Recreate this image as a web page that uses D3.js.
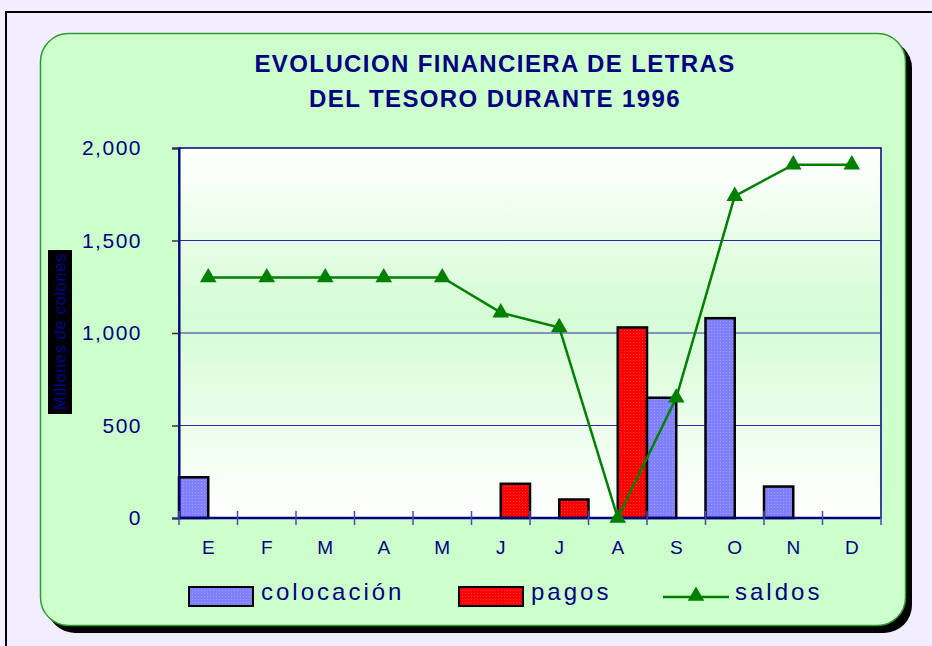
<!DOCTYPE html>
<html>
<head>
<meta charset="utf-8">
<script src="https://cdn.jsdelivr.net/npm/d3@7/dist/d3.min.js"></script>
<style>
  html, body { margin: 0; padding: 0; background: #f2eefe; }
  svg { display: block; font-family: "Liberation Sans", Arial, sans-serif; }
</style>
</head>
<body>
<div id="chart"></div>
<script>
  "use strict";

  // data
  var months = ['E', 'F', 'M', 'A', 'M', 'J', 'J', 'A', 'S', 'O', 'N', 'D'];
  var colocacion = [220, 0, 0, 0, 0, 0, 0, 0, 650, 1080, 170, 0];
  var pagos = [0, 0, 0, 0, 0, 185, 100, 1030, 0, 0, 0, 0];
  var saldos = [1300, 1300, 1300, 1300, 1300, 1110, 1030, 0, 650, 1740, 1910, 1910];
  var yTicks = [0, 500, 1000, 1500, 2000];
  var seriesNames = ['colocación', 'pagos', 'saldos'];

  var width = 932,
    height = 646,
    navy = '#000080';

  var svg = d3.select('#chart')
    .append('svg')
    .attr('width', width)
    .attr('height', height);

  var defs = svg.append('defs');

  var grad = defs.append('linearGradient')
    .attr('id', 'plotbg')
    .attr('x1', 0).attr('y1', 0).attr('x2', 0).attr('y2', 1);
  grad.append('stop').attr('offset', '0%').attr('stop-color', '#ffffff');
  grad.append('stop').attr('offset', '45%').attr('stop-color', '#d4fcd4');
  grad.append('stop').attr('offset', '100%').attr('stop-color', '#ffffff');

  // dotted fills
  var makePattern = function(id, base, dot) {
    var p = defs.append('pattern')
      .attr('id', id)
      .attr('width', 3).attr('height', 3)
      .attr('patternUnits', 'userSpaceOnUse');
    p.append('rect').attr('width', 3).attr('height', 3).attr('fill', base);
    p.append('rect').attr('width', 1).attr('height', 1).attr('fill', dot);
  };
  makePattern('patBlue', '#8080ff', '#a0a0ff');
  makePattern('patRed', '#ff0000', '#ff4040');

  // outer frame
  svg.append('rect')
    .attr('x', 6).attr('y', 12)
    .attr('width', width + 10).attr('height', height + 10)
    .attr('fill', '#f2eefe')
    .attr('stroke', '#000').attr('stroke-width', 2);

  // panel with shadow
  svg.append('rect')
    .attr('x', 47).attr('y', 40)
    .attr('width', 865).attr('height', 593)
    .attr('rx', 28)
    .attr('fill', '#000');
  svg.append('rect')
    .attr('x', 40.5).attr('y', 33.5)
    .attr('width', 865).attr('height', 592)
    .attr('rx', 28)
    .attr('fill', '#ccffcc')
    .attr('stroke', '#2f9a2f').attr('stroke-width', 1.5);

  // title
  var title = svg.append('text')
    .attr('text-anchor', 'middle')
    .attr('fill', navy)
    .attr('font-weight', 'bold')
    .attr('font-size', 24)
    .attr('letter-spacing', 1.4);
  title.append('tspan').attr('x', 495).attr('y', 72).text('EVOLUCION FINANCIERA DE LETRAS');
  title.append('tspan').attr('x', 495).attr('y', 107).text('DEL TESORO DURANTE 1996');

  // scales
  var x = d3.scaleBand()
    .domain(d3.range(months.length))
    .range([179, 881])
    .padding(0);

  var x1 = d3.scaleBand()
    .domain(['colocacion', 'pagos'])
    .range([0, x.bandwidth()])
    .padding(0);

  var y = d3.scaleLinear()
    .domain([0, 2000])
    .range([518, 148]);

  var plotW = x.range()[1] - x.range()[0],
    plotH = y(0) - y(2000);

  svg.append('rect')
    .attr('x', x.range()[0]).attr('y', y(2000))
    .attr('width', plotW).attr('height', plotH)
    .attr('fill', 'url(#plotbg)')
    .attr('stroke', navy).attr('stroke-width', 1.5);

  // gridlines
  svg.append('g')
    .selectAll('line')
    .data(yTicks.slice(1, -1))
    .enter().append('line')
    .attr('x1', x.range()[0]).attr('x2', x.range()[1])
    .attr('y1', function(d) { return y(d); })
    .attr('y2', function(d) { return y(d); })
    .attr('stroke', '#2a2aa8').attr('stroke-width', 1);

  // bars
  var barData = [];
  months.forEach(function(m, i) {
    if (colocacion[i] > 0) barData.push({ i: i, k: 'colocacion', v: colocacion[i] });
    if (pagos[i] > 0) barData.push({ i: i, k: 'pagos', v: pagos[i] });
  });

  svg.append('g')
    .selectAll('rect')
    .data(barData)
    .enter().append('rect')
    .attr('x', function(d) { return x(d.i) + x1(d.k); })
    .attr('y', function(d) { return y(d.v); })
    .attr('width', x1.bandwidth())
    .attr('height', function(d) { return y(0) - y(d.v); })
    .attr('fill', function(d) { return d.k === 'pagos' ? 'url(#patRed)' : 'url(#patBlue)'; })
    .attr('stroke', '#000').attr('stroke-width', 2.5);

  // y axis
  var yAxis = svg.append('g')
    .attr('transform', 'translate(' + x.range()[0] + ',0)')
    .call(d3.axisLeft(y).tickValues(yTicks).tickSize(7).tickPadding(30)
      .tickFormat(d3.format(',')));
  yAxis.select('.domain').attr('stroke', navy).attr('stroke-width', 2);
  yAxis.selectAll('.tick line').attr('stroke', '#333').attr('stroke-width', 1.5);
  yAxis.selectAll('.tick text')
    .attr('fill', navy)
    .attr('font-size', 21)
    .attr('letter-spacing', 1.5)
    .attr('font-family', '"Liberation Sans", Arial, sans-serif');

  // x axis
  var xAxis = svg.append('g')
    .attr('transform', 'translate(0,' + y(0) + ')');
  xAxis.append('line')
    .attr('x1', x.range()[0]).attr('x2', x.range()[1])
    .attr('stroke', navy).attr('stroke-width', 2.5);
  xAxis.selectAll('.xt')
    .data(d3.range(months.length + 1))
    .enter().append('line')
    .attr('class', 'xt')
    .attr('x1', function(d) { return x.range()[0] + d * x.step(); })
    .attr('x2', function(d) { return x.range()[0] + d * x.step(); })
    .attr('y1', -7).attr('y2', 7)
    .attr('stroke', '#4a4ab0').attr('stroke-width', 1.5);
  xAxis.selectAll('.xl')
    .data(months)
    .enter().append('text')
    .attr('class', 'xl')
    .attr('x', function(d, i) { return x(i) + x.bandwidth() / 2; })
    .attr('y', 36)
    .attr('text-anchor', 'middle')
    .attr('fill', navy)
    .attr('font-size', 19)
    .text(function(d) { return d; });

  // saldos line
  var line = d3.line()
    .x(function(d, i) { return x(i) + x.bandwidth() / 2; })
    .y(function(d) { return y(d); });

  svg.append('path')
    .datum(saldos)
    .attr('d', line)
    .attr('fill', 'none')
    .attr('stroke', '#008000')
    .attr('stroke-width', 2.5);

  var tri = d3.symbol().type(d3.symbolTriangle).size(120);
  svg.append('g')
    .selectAll('path')
    .data(saldos)
    .enter().append('path')
    .attr('d', tri)
    .attr('transform', function(d, i) {
      return 'translate(' + (x(i) + x.bandwidth() / 2) + ',' + y(d) + ')';
    })
    .attr('fill', '#008000');

  // y label
  var yl = svg.append('g').attr('transform', 'translate(60,332) rotate(-90)');
  yl.append('rect')
    .attr('x', -82).attr('y', -12)
    .attr('width', 164).attr('height', 24)
    .attr('fill', '#000');
  yl.append('text')
    .attr('text-anchor', 'middle')
    .attr('y', 6)
    .attr('fill', '#000090')
    .attr('font-size', 16)
    .attr('textLength', 156)
    .attr('lengthAdjust', 'spacing')
    .text('Millones de colones');

  // legend
  var legend = svg.append('g');
  var legItems = [
    { name: seriesNames[0], x: 189, fill: 'url(#patBlue)' },
    { name: seriesNames[1], x: 459, fill: 'url(#patRed)' },
    { name: seriesNames[2], x: 663, fill: null }
  ];
  var li = legend.selectAll('g')
    .data(legItems)
    .enter().append('g')
    .attr('transform', function(d) { return 'translate(' + d.x + ',596)'; });

  li.filter(function(d) { return d.fill; })
    .append('rect')
    .attr('x', 0).attr('y', -9)
    .attr('width', 64).attr('height', 19)
    .attr('fill', function(d) { return d.fill; })
    .attr('stroke', '#000').attr('stroke-width', 2);

  var lineItem = li.filter(function(d) { return !d.fill; });
  lineItem.append('line')
    .attr('x1', 0).attr('x2', 66)
    .attr('y1', 1).attr('y2', 1)
    .attr('stroke', '#008000').attr('stroke-width', 2.5);
  lineItem.append('path')
    .attr('d', tri)
    .attr('transform', 'translate(33,0)')
    .attr('fill', '#008000');

  li.append('text')
    .attr('x', 72)
    .attr('y', 4)
    .attr('fill', navy)
    .attr('font-size', 24)
    .attr('letter-spacing', 3)
    .text(function(d) { return d.name; });
</script>
</body>
</html>
